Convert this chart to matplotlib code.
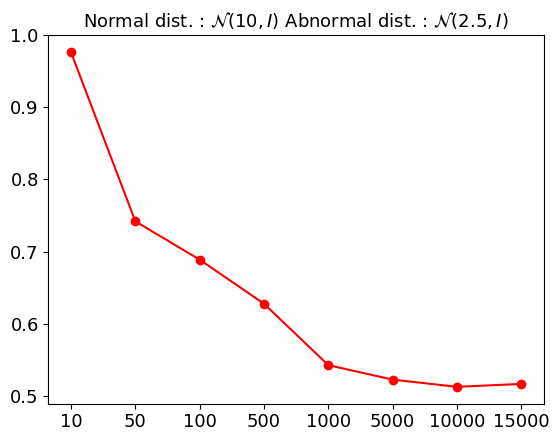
import matplotlib
matplotlib.use('Agg')
import matplotlib.pyplot as plt
import numpy as np

sizes = ['10', '50', '100', '500', '1000', '5000', '10000', '15000']
scores = [0.976, 0.742, 0.689, 0.628, 0.543, 0.523, 0.513, 0.517]

fig, ax = plt.subplots(figsize=(5.6, 4.42), dpi=100)
x = np.arange(len(sizes))
ax.plot(x, scores, 'o-', color='red')
ax.set_xticks(x)
ax.set_xticklabels(sizes)
ax.tick_params(labelsize=13)
ax.set_yticks([0.5, 0.6, 0.7, 0.8, 0.9, 1.0])
ax.set_title(r'Normal dist. : $\mathcal{N}(10, I)$ Abnormal dist. : $\mathcal{N}(2.5, I)$', fontsize=13)
fig.subplots_adjust(left=0.0866, right=0.971, top=0.921, bottom=0.087)
plt.savefig('out.png')
